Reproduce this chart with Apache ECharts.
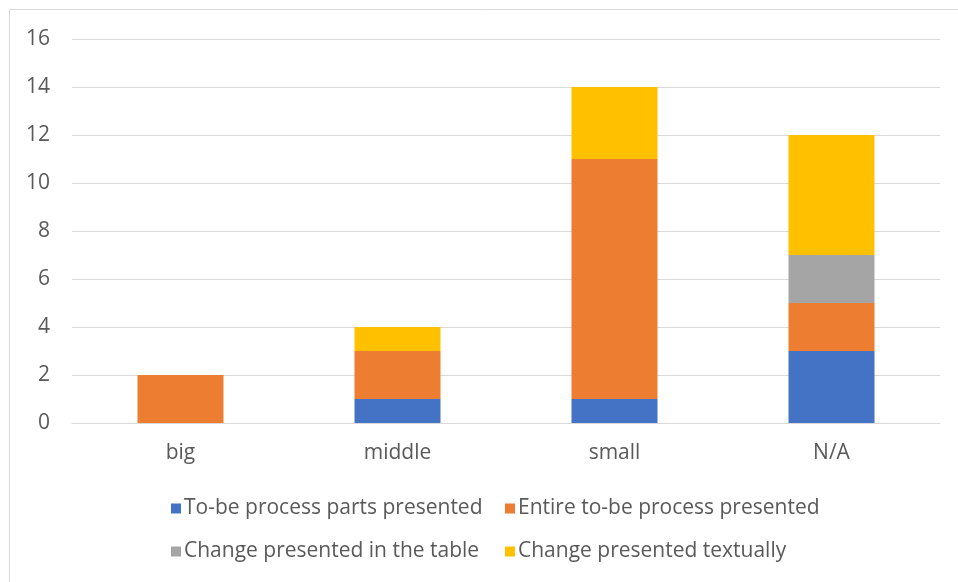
<!DOCTYPE html>
<html>
<head>
<meta charset="utf-8">
<script src="https://cdn.jsdelivr.net/npm/echarts@6/dist/echarts.min.js"></script>
<style>
  html, body { margin: 0; padding: 0; background: #fff; }
  #chart { width: 958px; height: 582px; }
</style>
</head>
<body>
<div id="chart"></div>
<script>
// Company size categories
const categories = ['big', 'middle', 'small', 'N/A'];

// Counts per presentation style
const partsPresented = [0, 1, 1, 3];
const entirePresented = [2, 2, 10, 2];
const tablePresented = [0, 0, 0, 2];
const textPresented = [0, 1, 3, 5];

const seriesNames = [
  'To-be process parts presented',
  'Entire to-be process presented',
  'Change presented in the table',
  'Change presented textually'
];
const seriesColors = ['#4472C4', '#ED7D31', '#A5A5A5', '#FFC000'];
const seriesValues = [partsPresented, entirePresented, tablePresented, textPresented];

const FONT = 'Open Sans';
const FONT_SIZE = 21;
const TEXT_COLOR = '#595959';

const chart = echarts.init(document.getElementById('chart'), null, { renderer: 'canvas' });

const legendPos = [
  { left: 166, top: 493 },
  { left: 500, top: 493 },
  { left: 166, top: 536 },
  { left: 500, top: 536 }
];

chart.setOption({
  animation: false,
  backgroundColor: '#fff',
  graphic: [{
    type: 'rect',
    shape: { x: 9.5, y: 9.5, width: 960, height: 600 },
    style: { fill: 'none', stroke: '#d9d9d9', lineWidth: 1 },
    silent: true
  }],
  grid: { left: 72, right: 18, top: 39, bottom: 159 },
  legend: seriesNames.map((name, i) => ({
    data: [name],
    left: legendPos[i].left,
    top: legendPos[i].top,
    itemWidth: 10,
    itemHeight: 10,
    itemGap: 4,
    icon: 'rect',
    textStyle: { fontFamily: FONT, fontSize: FONT_SIZE, color: TEXT_COLOR, padding: [0, 0, 0, -2] },
    selectedMode: false
  })),
  xAxis: {
    type: 'category',
    data: categories,
    axisLine: { show: true, lineStyle: { color: '#d9d9d9', width: 1 } },
    axisTick: { show: false },
    axisLabel: { fontFamily: FONT, fontSize: FONT_SIZE, color: TEXT_COLOR, margin: 20 }
  },
  yAxis: {
    type: 'value',
    min: 0,
    max: 16,
    interval: 2,
    axisLine: { show: false },
    axisTick: { show: false },
    axisLabel: { fontFamily: FONT, fontSize: FONT_SIZE, color: TEXT_COLOR, margin: 22 },
    splitLine: { lineStyle: { color: '#d9d9d9', width: 1 } }
  },
  series: seriesNames.map((name, i) => ({
    name: name,
    type: 'bar',
    stack: 'total',
    barWidth: 86,
    itemStyle: { color: seriesColors[i] },
    data: seriesValues[i]
  }))
});
</script>
</body>
</html>
